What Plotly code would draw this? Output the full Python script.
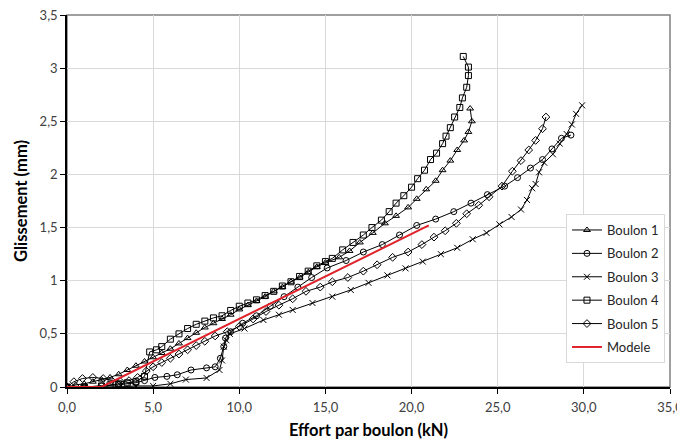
import plotly.graph_objects as go

# ---- data ----
b1_x = [0, 0.5, 1, 1.5, 2, 2.5, 3, 3.5, 4, 4.5, 5, 5.5, 6, 6.5, 7, 7.5, 8, 8.5, 9, 9.5, 10, 10.5, 11, 11.5, 12, 12.5, 13, 13.5, 14, 14.5, 15, 15.8, 16.4, 17.0, 17.75, 18.45, 19.1, 19.8, 20.3, 20.85, 21.4, 21.8, 22.25, 22.65, 23.05, 23.3, 23.5, 23.4]
b1_y = [0, 0.02, 0.03, 0.05, 0.07, 0.09, 0.12, 0.16, 0.2, 0.24, 0.28, 0.32, 0.36, 0.41, 0.46, 0.51, 0.56, 0.6, 0.64, 0.68, 0.73, 0.77, 0.81, 0.85, 0.9, 0.94, 0.99, 1.03, 1.08, 1.13, 1.17, 1.22, 1.28, 1.36, 1.45, 1.54, 1.61, 1.69, 1.77, 1.86, 1.94, 2.04, 2.13, 2.23, 2.32, 2.40, 2.50, 2.62]

b2_x = [0, 1, 2, 3, 4, 4.5, 5.1, 5.8, 6.4, 7.2, 8.1, 8.6, 8.9, 9.1, 9.2, 9.5, 10.2, 11, 11.8, 12.6, 13.4, 14.2, 15.1, 16.2, 17.2, 18.3, 19.3, 20.3, 21.4, 22.45, 23.45, 24.4, 25.4, 26.15, 26.9, 27.6, 28.15, 28.7, 29.25]
b2_y = [0, 0.0, 0.01, 0.02, 0.04, 0.06, 0.09, 0.10, 0.115, 0.16, 0.18, 0.19, 0.27, 0.38, 0.46, 0.52, 0.6, 0.67, 0.76, 0.85, 0.94, 1.03, 1.12, 1.19, 1.27, 1.34, 1.43, 1.52, 1.58, 1.65, 1.73, 1.81, 1.89, 1.97, 2.06, 2.14, 2.24, 2.34, 2.37]

b3_x = [0, 1, 2, 3, 4, 5, 6, 6.9, 8.1, 8.85, 9.0, 9.1, 9.25, 9.45, 10.3, 11.4, 12.3, 13.1, 14.25, 15.4, 16.47, 17.5, 18.6, 19.65, 20.65, 21.7, 22.65, 23.55, 24.35, 25.1, 25.8, 26.35, 26.7, 27.0, 27.2, 27.4, 27.7, 28.2, 28.6, 29.0, 29.3, 29.55, 29.9]
b3_y = [0, 0, 0, 0, 0.01, 0.01, 0.03, 0.07, 0.085, 0.16, 0.25, 0.38, 0.44, 0.5, 0.55, 0.63, 0.68, 0.725, 0.79, 0.85, 0.913, 0.98, 1.05, 1.116, 1.18, 1.25, 1.31, 1.39, 1.45, 1.53, 1.6, 1.67, 1.76, 1.87, 1.91, 2.02, 2.11, 2.19, 2.29, 2.38, 2.47, 2.57, 2.65]

b4_x = [0, 1, 2, 2.5, 3, 3.5, 4, 4.5, 4.8, 5.2, 5.5, 6, 6.5, 7, 7.5, 8, 8.5, 9, 9.5, 10, 10.5, 11, 11.5, 12, 12.5, 13, 13.5, 14, 14.5, 15, 15.4, 16, 16.6, 17.2, 17.7, 18.25, 18.7, 19.1, 19.55, 20, 20.35, 20.75, 21.1, 21.45, 21.8, 22, 22.25, 22.5, 22.8, 22.95, 23.2, 23.3, 23.3, 23.0]
b4_y = [0, 0, 0.01, 0.02, 0.03, 0.04, 0.05, 0.1, 0.33, 0.35, 0.38, 0.45, 0.5, 0.55, 0.59, 0.62, 0.65, 0.67, 0.72, 0.76, 0.79, 0.82, 0.86, 0.9, 0.95, 0.99, 1.04, 1.09, 1.14, 1.18, 1.21, 1.29, 1.36, 1.43, 1.5, 1.57, 1.65, 1.73, 1.8, 1.88, 1.96, 2.04, 2.14, 2.2, 2.29, 2.36, 2.44, 2.54, 2.63, 2.72, 2.82, 2.93, 3.01, 3.11]

b5_x = [0, 0.4, 0.9, 1.5, 2.1, 2.6, 3.1, 3.6, 4.1, 4.6, 5.0, 5.5, 6.0, 6.5, 7.0, 7.5, 8.0, 8.6, 9.3, 10.0, 10.8, 11.55, 12.3, 13.1, 13.87, 14.7, 15.4, 16.3, 17.2, 18.0, 18.9, 19.8, 20.6, 21.3, 21.95, 22.6, 23.2, 23.9, 24.5, 25.25, 25.85, 26.35, 26.8, 27.2, 27.6, 27.8]
b5_y = [0, 0.05, 0.08, 0.09, 0.08, 0.06, 0.05, 0.06, 0.09, 0.15, 0.19, 0.23, 0.27, 0.31, 0.35, 0.39, 0.43, 0.48, 0.52, 0.57, 0.64, 0.71, 0.77, 0.83, 0.9, 0.94, 0.99, 1.03, 1.09, 1.15, 1.22, 1.27, 1.34, 1.41, 1.47, 1.54, 1.63, 1.71, 1.79, 1.89, 2.03, 2.13, 2.23, 2.32, 2.43, 2.54]

model_x = [0, 2, 21]
model_y = [0, 0, 1.52]

series = [
    ("Boulon 1", b1_x, b1_y, "triangle-up-open"),
    ("Boulon 2", b2_x, b2_y, "circle-open"),
    ("Boulon 3", b3_x, b3_y, "x-thin-open"),
    ("Boulon 4", b4_x, b4_y, "square-open"),
    ("Boulon 5", b5_x, b5_y, "diamond-open"),
]

FONT = "Lato, Open Sans, sans-serif"

fig = go.Figure()
for name, xs, ys, sym in series:
    fig.add_trace(go.Scatter(
        x=xs, y=ys, name=name, legendgroup=name, mode="lines+markers",
        line=dict(color="black", width=1),
        marker=dict(symbol=sym, size=6, color="black", line=dict(width=1, color="black")),
    ))
fig.add_trace(go.Scatter(
    x=model_x, y=model_y, name="Modele", legendgroup="Modele", mode="lines",
    line=dict(color="#e0232b", width=2),
))

fig.update_layout(
    width=677, height=435,
    margin=dict(l=59, r=15, t=7, b=56, autoexpand=False),
    paper_bgcolor="white", plot_bgcolor="white",
    separators=", ",
    font=dict(family=FONT, size=12, color="#404040"),
    showlegend=True,
    legend=dict(
        x=0.8275, y=0.465, xanchor="left", yanchor="top",
        bgcolor="white", bordercolor="#d9d9d9", borderwidth=1,
        font=dict(family=FONT, size=13, color="#262626"),
        tracegroupgap=3.5, itemwidth=30,
    ),
    shapes=[dict(type="rect", xref="paper", yref="paper", x0=0, y0=0, x1=1, y1=1,
                 line=dict(color="#808080", width=1.5), layer="below")],
)
fig.update_xaxes(
    range=[0, 35], dtick=5, tickformat=".1f", automargin=False,
    showgrid=True, gridcolor="#d9d9d9", gridwidth=1,
    showline=True, linecolor="black", linewidth=1.5,
    ticks="outside", ticklen=5, tickcolor="black", ticklabelstandoff=3,
    ticklabeloverflow="allow",
    zeroline=False,
    tickfont=dict(family=FONT, size=13, color="#404040"),
    title=dict(text="<b>Effort par boulon (kN)</b>", font=dict(family=FONT, size=16.5, color="black"), standoff=10),
)
fig.update_yaxes(
    range=[0, 3.5], dtick=0.5, automargin=False,
    showgrid=True, gridcolor="#d9d9d9", gridwidth=1,
    showline=True, linecolor="black", linewidth=1.5,
    ticks="outside", ticklen=5, tickcolor="black",
    ticklabeloverflow="allow",
    zeroline=False,
    tickfont=dict(family=FONT, size=13, color="#404040"),
    title=dict(text="<b>Glissement (mm)</b>", font=dict(family=FONT, size=16.5, color="black"), standoff=8),
)

fig.write_html("out.html")
